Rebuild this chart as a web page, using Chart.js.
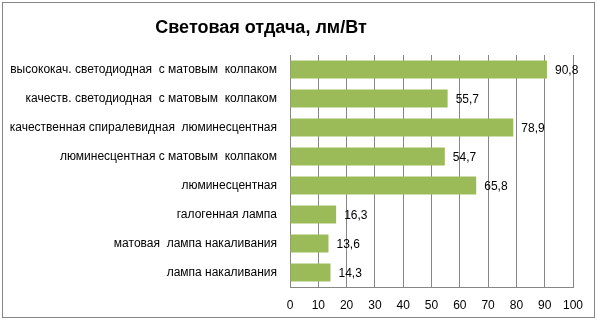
<!DOCTYPE html>
<html>
<head>
<meta charset="utf-8">
<script src="https://cdn.jsdelivr.net/npm/chart.js@4/dist/chart.umd.min.js"></script>
<style>
  html, body { margin: 0; padding: 0; background: #fff; }
  #wrap { position: relative; width: 599px; height: 322px; }
  #frame { position: absolute; left: 2px; top: 2px; width: 593px; height: 316px; border: 1px solid #868686; box-sizing: border-box; pointer-events: none; }
</style>
</head>
<body>
<div id="wrap">
  <canvas id="chart" width="599" height="322"></canvas>
  <div id="frame"></div>
</div>
<script>
const lampTypes = [
  'высококач. светодиодная  с матовым  колпаком',
  'качеств. светодиодная  с матовым  колпаком',
  'качественная спиралевидная  люминесцентная',
  'люминесцентная с матовым  колпаком',
  'люминесцентная',
  'галогенная лампа',
  'матовая  лампа накаливания',
  'лампа накаливания'
];
const efficacy = [90.8, 55.7, 78.9, 54.7, 65.8, 16.3, 13.6, 14.3];
const xMin = 0, xMax = 100, xStep = 10;
const chartTitle = 'Световая отдача, лм/Вт';

const FONT = "'Liberation Sans', 'DejaVu Sans', sans-serif";

// title sits a bit left of the plot centre, so it is drawn by hand
const titleText = {
  id: 'titleText',
  afterDraw(chart) {
    const ctx = chart.ctx;
    ctx.save();
    ctx.font = 'bold 18px ' + FONT;
    ctx.fillStyle = '#000';
    ctx.textAlign = 'center';
    ctx.textBaseline = 'middle';
    ctx.fillText(chartTitle, 261, 28);
    ctx.restore();
  }
};

// value labels to the right of each bar, comma as decimal separator
const valueLabels = {
  id: 'valueLabels',
  afterDatasetsDraw(chart) {
    const ctx = chart.ctx;
    const meta = chart.getDatasetMeta(0);
    ctx.save();
    ctx.font = '12px ' + FONT;
    ctx.fillStyle = '#000';
    ctx.textBaseline = 'middle';
    ctx.textAlign = 'left';
    meta.data.forEach((bar, i) => {
      const txt = efficacy[i].toFixed(1).replace('.', ',');
      ctx.fillText(txt, bar.x + 8, bar.y + 1);
    });
    ctx.restore();
  }
};

new Chart(document.getElementById('chart'), {
  type: 'bar',
  data: {
    labels: lampTypes,
    datasets: [{
      data: efficacy,
      backgroundColor: '#9bbb59',
      borderWidth: 0,
      categoryPercentage: 1,
      barPercentage: 0.62
    }]
  },
  options: {
    indexAxis: 'y',
    responsive: false,
    animation: false,
    layout: { padding: { left: 0, right: 26, top: 55, bottom: 0 } },
    plugins: {
      legend: { display: false },
      tooltip: { enabled: false },
      title: { display: false }
    },
    scales: {
      x: {
        min: xMin,
        max: xMax,
        ticks: { stepSize: xStep, color: '#000', padding: 11, font: { family: FONT, size: 12 } },
        grid: { color: '#868686', drawTicks: false },
        border: { color: '#868686' },
        afterFit(scale) { scale.height = 35; }
      },
      y: {
        ticks: { color: '#000', padding: 13, font: { family: FONT, size: 12 } },
        grid: { display: false, drawTicks: false },
        border: { color: '#868686' },
        afterFit(scale) { scale.width = 290; }
      }
    }
  },
  plugins: [valueLabels, titleText]
});
</script>
</body>
</html>
